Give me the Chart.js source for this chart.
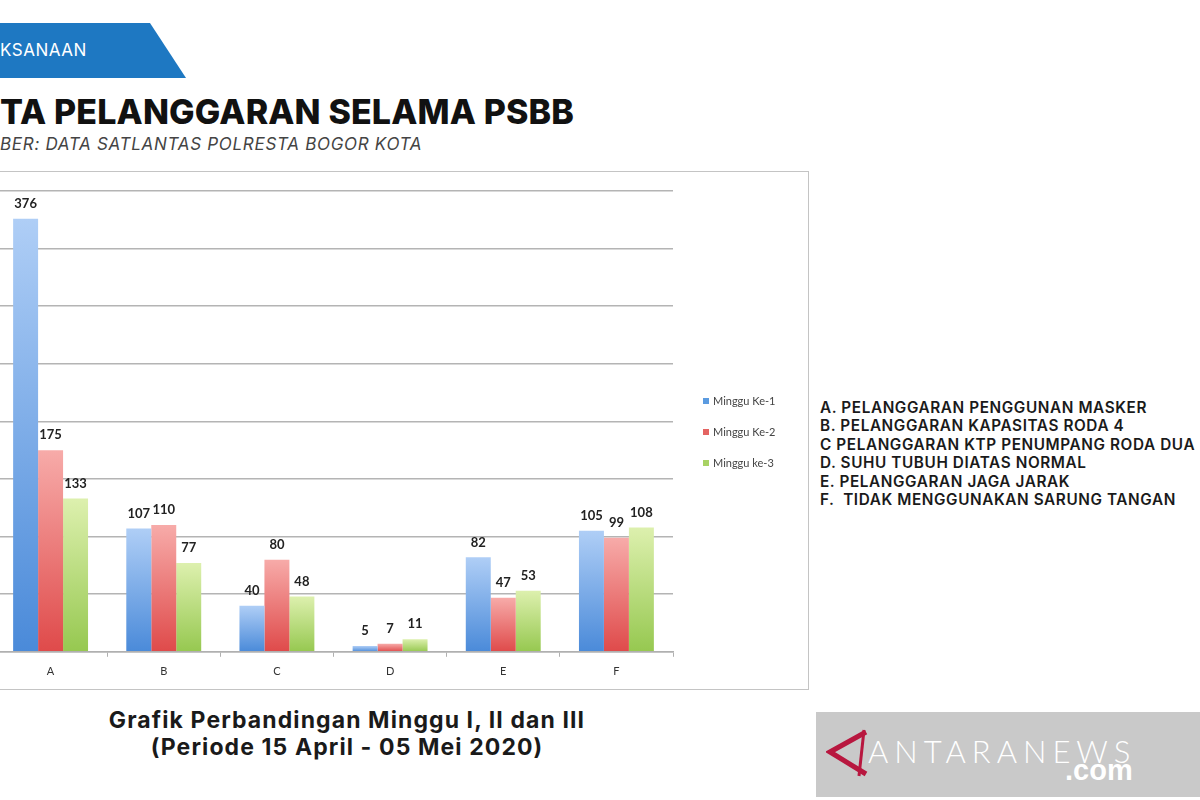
<!DOCTYPE html>
<html>
<head>
<meta charset="utf-8">
<script src="https://cdn.jsdelivr.net/npm/chart.js@4.4.1/dist/chart.umd.min.js"></script>
<style>
	html, body { margin: 0; padding: 0; background: #fff; }
	body { width: 1200px; height: 800px; position: relative; overflow: hidden; font-family: Inter, "Open Sans", sans-serif; }
	#banner { position: absolute; left: 0; top: 23px; width: 186px; height: 55px; background: #1e78c2; clip-path: polygon(0 0, 150px 0, 186px 100%, 0 100%); }
	#banner span { position: absolute; left: 0; top: 17px; color: #fff; font-size: 17px; line-height: 20px; letter-spacing: 0.5px; }
	#title { position: absolute; left: 0; top: 92px; font-size: 34px; line-height: 40px; font-weight: 800; color: #111; white-space: nowrap; letter-spacing: 0.15px; }
	#source { position: absolute; left: 0; top: 133px; font-size: 17px; line-height: 22px; font-style: italic; color: #444; white-space: nowrap; letter-spacing: 0.7px; }
	#box { position: absolute; left: -5px; top: 171px; width: 812px; height: 517px; border: 1.5px solid #c4c4c4; }
	#chart { position: absolute; left: -40px; top: 171px; }
	#legend { position: absolute; left: 703px; top: 390px; font-family: Lato, sans-serif; font-size: 11px; color: #444; }
	#legend div { height: 31px; line-height: 22px; white-space: nowrap; }
	#legend i { display: inline-block; width: 6px; height: 6px; margin-right: 4px; vertical-align: 1px; }
	#notes { position: absolute; left: 820px; top: 399px; font-size: 15.3px; line-height: 18.4px; font-weight: 600; color: #1a1a1a; white-space: pre; letter-spacing: 0.6px; }
	#caption { position: absolute; left: 47px; width: 600px; top: 707px; text-align: center; font-size: 23px; line-height: 27px; font-weight: 700; color: #1a1a1a; letter-spacing: 1.1px; }
	#logo { position: absolute; left: 816px; top: 712px; width: 384px; height: 85px; background: #c9c9c9; }
	#logo svg { position: absolute; left: 10px; top: 16px; }
	#logo .name { position: absolute; left: 52px; top: 22px; font-family: Lato, sans-serif; font-weight: 300; font-size: 31px; line-height: 34px; color: #fff; letter-spacing: 6px; }
	#logo .com { position: absolute; left: 249px; top: 43px; font-family: "Liberation Sans", Arial, sans-serif; font-weight: 700; font-size: 29px; line-height: 30px; color: #fff; }
</style>
</head>
<body>

<div id="banner"><span>KSANAAN</span></div>
<div id="title">TA PELANGGARAN SELAMA PSBB</div>
<div id="source">BER: DATA SATLANTAS POLRESTA BOGOR KOTA</div>

<div id="box"></div>
<canvas id="chart" width="849" height="519"></canvas>
<div id="legend"></div>

<div id="notes">A. PELANGGARAN PENGGUNAN MASKER
B. PELANGGARAN KAPASITAS RODA 4
C PELANGGARAN KTP PENUMPANG RODA DUA
D. SUHU TUBUH DIATAS NORMAL
E. PELANGGARAN JAGA JARAK
F.  TIDAK MENGGUNAKAN SARUNG TANGAN</div>

<div id="caption">Grafik Perbandingan Minggu I, II dan III<br>(Periode 15 April - 05 Mei 2020)</div>

<div id="logo">
	<svg width="50" height="52" viewBox="0 0 50 52">
		<path d="M40 4 L4 24 L40 46" fill="none" stroke="#b8173f" stroke-width="5" stroke-linejoin="miter"/>
		<path d="M38 2 L33 48" fill="none" stroke="#b8173f" stroke-width="3"/>
	</svg>
	<div class="name">ANTARANEWS</div>
	<div class="com">.com</div>
</div>

<script>
	'use strict';

	// data
	const categories = ['A', 'B', 'C', 'D', 'E', 'F'];
	const seriesNames = ['Minggu Ke-1', 'Minggu Ke-2', 'Minggu ke-3'];
	const minggu1 = [376, 107, 40, 5, 82, 105];
	const minggu2 = [175, 110, 80, 7, 47, 99];
	const minggu3 = [133, 77, 48, 11, 53, 108];
	const yMax = 400;
	const yStep = 50;

	// styles
	const barTop = ['#afcef6', '#f7aba9', '#ddf0ae'];
	const barBottom = ['#4a8ad9', '#df4a4a', '#96c850'];
	const legendColors = ['#5b9be0', '#e46462', '#a8d264'];

	function barFill(i) {
		return function(ctx) {
			const chart = ctx.chart;
			if ( !chart.chartArea || ctx.type !== 'data' ) return barBottom[i];
			const y = chart.scales.y;
			const top = y.getPixelForValue(ctx.raw);
			const base = y.getPixelForValue(0);
			if ( !isFinite(top) || top === base ) return barBottom[i];
			const g = chart.ctx.createLinearGradient(0, top, 0, base);
			g.addColorStop(0, barTop[i]);
			g.addColorStop(1, barBottom[i]);
			return g;
		};
	}

	// numbers above bars
	const valueLabels = {
		id: 'valueLabels',
		afterDatasetsDraw: function(chart) {
			const c = chart.ctx;
			c.save();
			c.font = 'bold 13px Lato';
			c.fillStyle = '#222';
			c.textAlign = 'center';
			c.textBaseline = 'middle';
			chart.data.datasets.forEach(function(ds, i) {
				chart.getDatasetMeta(i).data.forEach(function(bar, j) {
					c.fillText(ds.data[j], bar.x, bar.y - 15);
				});
			});
			c.restore();
		}
	};

	const series = [minggu1, minggu2, minggu3];

	const chart = new Chart(document.getElementById('chart'), {
		type: 'bar',
		data: {
			labels: categories,
			datasets: series.map(function(values, i) {
				return {
					label: seriesNames[i],
					data: values,
					backgroundColor: barFill(i),
					borderWidth: 0,
					categoryPercentage: 0.662,
					barPercentage: 1
				};
			})
		},
		options: {
			responsive: false,
			animation: false,
			layout: { padding: { left: 34, right: 136, top: 20, bottom: 4 } },
			plugins: {
				legend: { display: false },
				tooltip: { enabled: false }
			},
			scales: {
				x: {
					grid: { offset: true, drawOnChartArea: false, drawTicks: true, tickLength: 5, color: '#b0b0b0', lineWidth: 1 },
					border: { color: '#b0b0b0', width: 1.5 },
					ticks: { color: '#333', font: { family: 'Lato', size: 11 }, padding: 8 }
				},
				y: {
					min: 0,
					max: yMax,
					ticks: { display: false, stepSize: yStep },
					grid: { color: '#b4b4b4', lineWidth: 1.5, drawTicks: false },
					border: { display: false }
				}
			}
		},
		plugins: [valueLabels]
	});

	// legend from the datasets
	const legend = document.getElementById('legend');
	chart.data.datasets.forEach(function(ds, i) {
		const row = document.createElement('div');
		row.innerHTML = '<i style="background:' + legendColors[i] + '"></i>' + ds.label;
		legend.appendChild(row);
	});
</script>
</body>
</html>
